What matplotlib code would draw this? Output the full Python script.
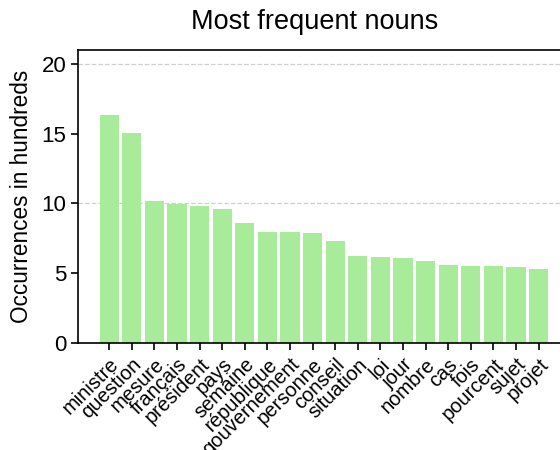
import matplotlib
matplotlib.use("Agg")
import matplotlib.pyplot as plt

nouns = ["ministre", "question", "mesure", "français", "président", "pays", "semaine",
         "république", "gouvernement", "personne", "conseil", "situation", "loi", "jour",
         "nombre", "cas", "fois", "pourcent", "sujet", "projet"]
counts = [16.34, 15.03, 10.18, 9.99, 9.84, 9.6, 8.6, 7.96, 7.96, 7.89, 7.31, 6.24,
          6.16, 6.09, 5.88, 5.59, 5.52, 5.52, 5.45, 5.3]
yticks = [0, 5, 10, 15, 20]
gridlines = [10, 20]

plt.rcParams['font.family'] = ['Liberation Sans', 'DejaVu Sans']

fig = plt.figure(figsize=(5.6, 4.5), dpi=100)
ax = fig.add_axes([78/560, 107/450, (570-78)/560, (343-50)/450])
for g in gridlines:
    ax.axhline(g, color='#d0d0d0', linestyle='--', linewidth=0.9, zorder=0)
ax.bar(range(len(nouns)), counts, width=0.85, color='#a8eb9a', zorder=2)
ax.set_xlim(-1.38, 20.39)
ax.set_ylim(0, 21)
ax.set_yticks(yticks)
ax.set_xticks(range(len(nouns)))
ax.set_xticklabels(nouns, rotation=45, ha='right', rotation_mode='anchor', fontsize=14.5)
ax.tick_params(axis='y', labelsize=16, length=5, width=1.2)
ax.tick_params(axis='x', length=5, width=1.2)
for s in ax.spines.values():
    s.set_linewidth(1.2)
ax.set_ylabel("Occurrences in hundreds", fontsize=16.3, labelpad=6)
fig.text(315/560, 1 - 22/450, "Most frequent nouns", fontsize=19.5, ha='center', va='center')
fig.savefig("out.png", dpi=100)
